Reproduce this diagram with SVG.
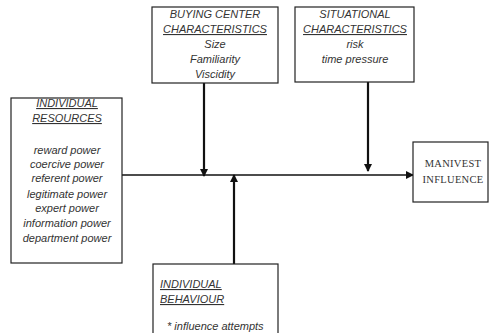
<svg xmlns="http://www.w3.org/2000/svg" width="492" height="333" viewBox="0 0 492 333">
<defs>
<marker id="ah" markerWidth="8" markerHeight="8" refX="7" refY="4" orient="auto" markerUnits="userSpaceOnUse">
<path d="M0,0 L8,4 L0,8 Z" fill="#111"/>
</marker>
<style>
.box{fill:#fff;stroke:#222;stroke-width:1.2}
.t{font-family:"Liberation Sans",Arial,sans-serif;font-style:italic;font-size:11px;fill:#333;text-anchor:middle}
.tl{text-anchor:start}
.u{text-decoration:underline}
.s{font-family:"Liberation Serif","Times New Roman",serif;font-size:10.5px;fill:#333;text-anchor:middle;letter-spacing:0.3px}
.c{stroke:#111;fill:none}
</style>
</defs>
<g id="connectors">
<line class="c" x1="122" y1="175" x2="413" y2="175" stroke-width="1.5" marker-end="url(#ah)"/>
<line class="c" x1="204" y1="83" x2="204" y2="176" stroke-width="2.2" marker-end="url(#ah)"/>
<line class="c" x1="368" y1="82" x2="368" y2="171" stroke-width="2.2" marker-end="url(#ah)"/>
<line class="c" x1="234" y1="264" x2="234" y2="175" stroke-width="2.2" marker-end="url(#ah)"/>
</g>
<g id="buying-center">
<rect class="box" x="152" y="7" width="126" height="76"/>
<text class="t" x="215" y="18">BUYING CENTER</text>
<text class="t u" x="215" y="33">CHARACTERISTICS</text>
<text class="t" x="215" y="48">Size</text>
<text class="t" x="215" y="63">Familiarity</text>
<text class="t" x="215" y="78">Viscidity</text>
</g>
<g id="situational">
<rect class="box" x="295" y="7" width="119" height="75"/>
<text class="t" x="355" y="18">SITUATIONAL</text>
<text class="t u" x="355" y="33">CHARACTERISTICS</text>
<text class="t" x="355" y="48">risk</text>
<text class="t" x="355" y="63">time pressure</text>
</g>
<g id="individual-resources">
<rect class="box" x="11" y="98" width="111" height="165"/>
<text class="t u" x="67" y="107">INDIVIDUAL</text>
<text class="t u" x="67" y="122">RESOURCES</text>
<text class="t" x="67" y="154">reward power</text>
<text class="t" x="67" y="168">coercive power</text>
<text class="t" x="67" y="182">referent power</text>
<text class="t" x="67" y="198">legitimate power</text>
<text class="t" x="67" y="212">expert power</text>
<text class="t" x="67" y="227">information power</text>
<text class="t" x="67" y="242">department power</text>
</g>
<g id="manivest-influence">
<rect class="box" x="413" y="142" width="75" height="60"/>
<text class="s" x="453" y="167">MANIVEST</text>
<text class="s" x="453" y="183">INFLUENCE</text>
</g>
<g id="individual-behaviour">
<rect class="box" x="153" y="264" width="125" height="80"/>
<text class="t tl u" x="160" y="288">INDIVIDUAL</text>
<text class="t tl u" x="160" y="303">BEHAVIOUR</text>
<text class="t tl" x="167" y="330">* influence attempts</text>
</g>
</svg>
